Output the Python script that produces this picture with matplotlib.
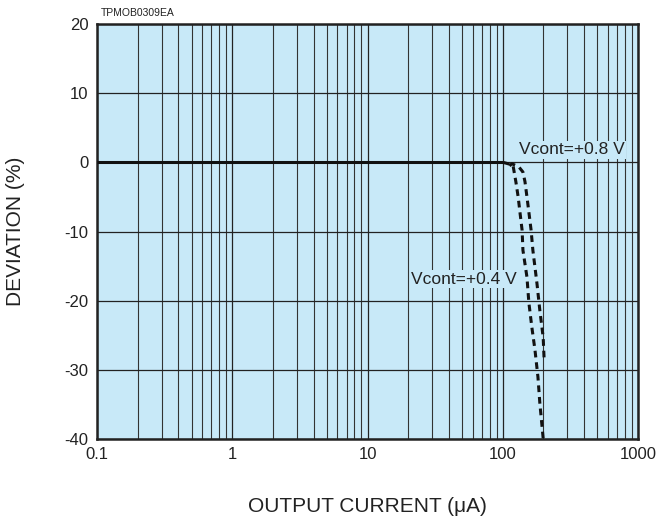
import matplotlib
matplotlib.use("Agg")
import matplotlib.pyplot as plt
import numpy as np
from matplotlib.ticker import FixedLocator, NullFormatter

plt.rcParams['font.family'] = ['Liberation Sans', 'DejaVu Sans']

# Flat part (solid)
flat_x = [0.1, 100.5]
flat_y = [0.0, 0.0]

# Vcont=+0.4 V curve (dashed, reaching the bottom)
c04_x = [100.5, 119, 125, 130, 134, 139, 141, 151, 156, 164, 173, 182, 188, 199]
c04_y = [0.0, -0.4, -2.8, -5.0, -7.2, -9.8, -12.7, -16.6, -20.3, -23.8, -27.1, -31.0, -34.8, -39.9]

# Vcont=+0.8 V curve (dashed)
c08_x = [112, 117, 132, 141, 146, 151, 156, 162, 167, 179, 188, 199, 202]
c08_y = [-0.5, -0.2, -0.7, -1.4, -2.8, -5.0, -7.2, -9.8, -12.7, -17.5, -21.4, -25.3, -28.2]

xticks = [0.1, 1, 10, 100, 1000]
xticklabels = ["0.1", "1", "10", "100", "1000"]
yticks = [-40, -30, -20, -10, 0, 10, 20]

bg = "#C8E9F8"

fig = plt.figure(figsize=(6.57, 5.19), dpi=100)
ax = fig.add_axes([97/657, 80/519, 541/657, 415/519])
ax.set_facecolor(bg)
ax.set_xscale('log')
ax.set_xlim(0.1, 1000)
ax.set_ylim(-40, 20)

minor = [m * 10.0**e for e in range(-1, 3) for m in range(2, 10)]
ax.xaxis.set_major_locator(FixedLocator(xticks))
ax.xaxis.set_minor_locator(FixedLocator(minor))
ax.xaxis.set_minor_formatter(NullFormatter())
ax.set_xticklabels(xticklabels)
ax.set_yticks(yticks)
ax.set_yticklabels([str(v) for v in yticks])

ax.grid(True, which='major', color='#222222', linewidth=0.9)
ax.grid(True, which='minor', axis='x', color='#333333', linewidth=0.8)
ax.tick_params(which='both', length=0, labelsize=12, colors='#222222')
ax.tick_params(axis='x', pad=6)
ax.tick_params(axis='y', pad=6)
for s in ax.spines.values():
    s.set_linewidth(1.8)
    s.set_color('#222222')

ax.plot(flat_x, flat_y, color='#111111', linewidth=2.2, zorder=5, solid_capstyle='butt')
ax.plot(c04_x, c04_y, color='#111111', linewidth=2.2, linestyle=(0, (2.2, 1.6)), zorder=5)
ax.plot(c08_x, c08_y, color='#111111', linewidth=2.2, linestyle=(0, (2.2, 1.6)), zorder=5)

ax.text(132, 1.8, "Vcont=+0.8 V", fontsize=12.5, ha='left', va='center',
        color='#222222', zorder=6, bbox=dict(facecolor=bg, edgecolor='none', pad=1.0))
ax.text(21, -16.9, "Vcont=+0.4 V", fontsize=12.5, ha='left', va='center',
        color='#222222', zorder=6, bbox=dict(facecolor=bg, edgecolor='none', pad=1.0))

ax.set_xlabel("OUTPUT CURRENT (μA)", fontsize=15, color='#222222', va='center')
ax.xaxis.set_label_coords(0.5, (439 - 507) / 415)
ax.set_ylabel("DEVIATION (%)", fontsize=15, color='#222222', va='center')
ax.yaxis.set_label_coords((16 - 97) / 541, 0.5)

fig.text(101/657, 1 - 13/519, "TPMOB0309EA", fontsize=7.5, ha='left', va='center', color='#222222')

fig.savefig("out.png", dpi=100, facecolor='white')
